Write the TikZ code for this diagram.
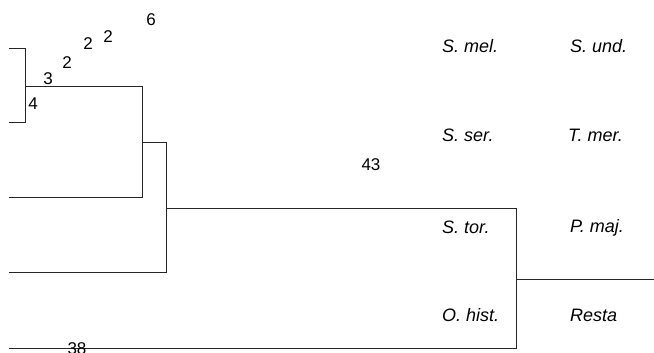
\documentclass[tikz,border=0pt]{standalone}
\usepackage{fontspec}
\setmainfont{Liberation Sans}
\begin{document}
\begin{tikzpicture}[x=1pt,y=-1pt,
  branch/.style={line width=0.9pt,draw=black!85},
  taxon/.style={font=\fontsize{18}{20}\selectfont\itshape,anchor=west,inner sep=0pt},
  count/.style={font=\fontsize{17}{19}\selectfont,inner sep=0pt}]
\useasboundingbox (0,0) rectangle (654,353);
% tree coordinates
\coordinate (a1) at (9,48);
\coordinate (a2) at (25,48);
\coordinate (a3) at (25,122);
\coordinate (a4) at (9,122);
\coordinate (b1) at (25,86);
\coordinate (b2) at (142,86);
\coordinate (b3) at (142,197);
\coordinate (b4) at (9,197);
\coordinate (c1) at (142,142);
\coordinate (c2) at (166,142);
\coordinate (c3) at (166,272);
\coordinate (c4) at (9,272);
\coordinate (d1) at (166,208);
\coordinate (d2) at (516,208);
\coordinate (d3) at (516,348);
\coordinate (d4) at (9,348);
\coordinate (e1) at (516,279);
\coordinate (e2) at (654,279);
\draw[branch] (a1) -- (a2) -- (a3) -- (a4);
\draw[branch] (b1) -- (b2) -- (b3) -- (b4);
\draw[branch] (c1) -- (c2) -- (c3) -- (c4);
\draw[branch] (d1) -- (d2) -- (d3) -- (d4);
\draw[branch] (e1) -- (e2);
% counts
\node[count] (n6) at (151,20) {6};
\node[count] (n2a) at (108,37) {2};
\node[count] (n2b) at (88,44) {2};
\node[count] (n2c) at (67,63) {2};
\node[count] (n3) at (48,79) {3};
\node[count] (n4) at (33,104) {4};
\node[count] (n43) at (371,165) {43};
\node[count] (n38) at (77,349) {38};
% taxa
\node[taxon] (smel) at (442,46) {S. mel.};
\node[taxon] (sund) at (570,46) {S. und.};
\node[taxon] (sser) at (442,135) {S. ser.};
\node[taxon] (tmer) at (568,135) {T. mer.};
\node[taxon] (stor) at (442,227) {S. tor.};
\node[taxon] (pmaj) at (570,228) {P. maj.};
\node[taxon] (ohist) at (442,315) {O. hist.};
\node[taxon] (resta) at (570,315) {Resta};
\end{tikzpicture}
\end{document}
